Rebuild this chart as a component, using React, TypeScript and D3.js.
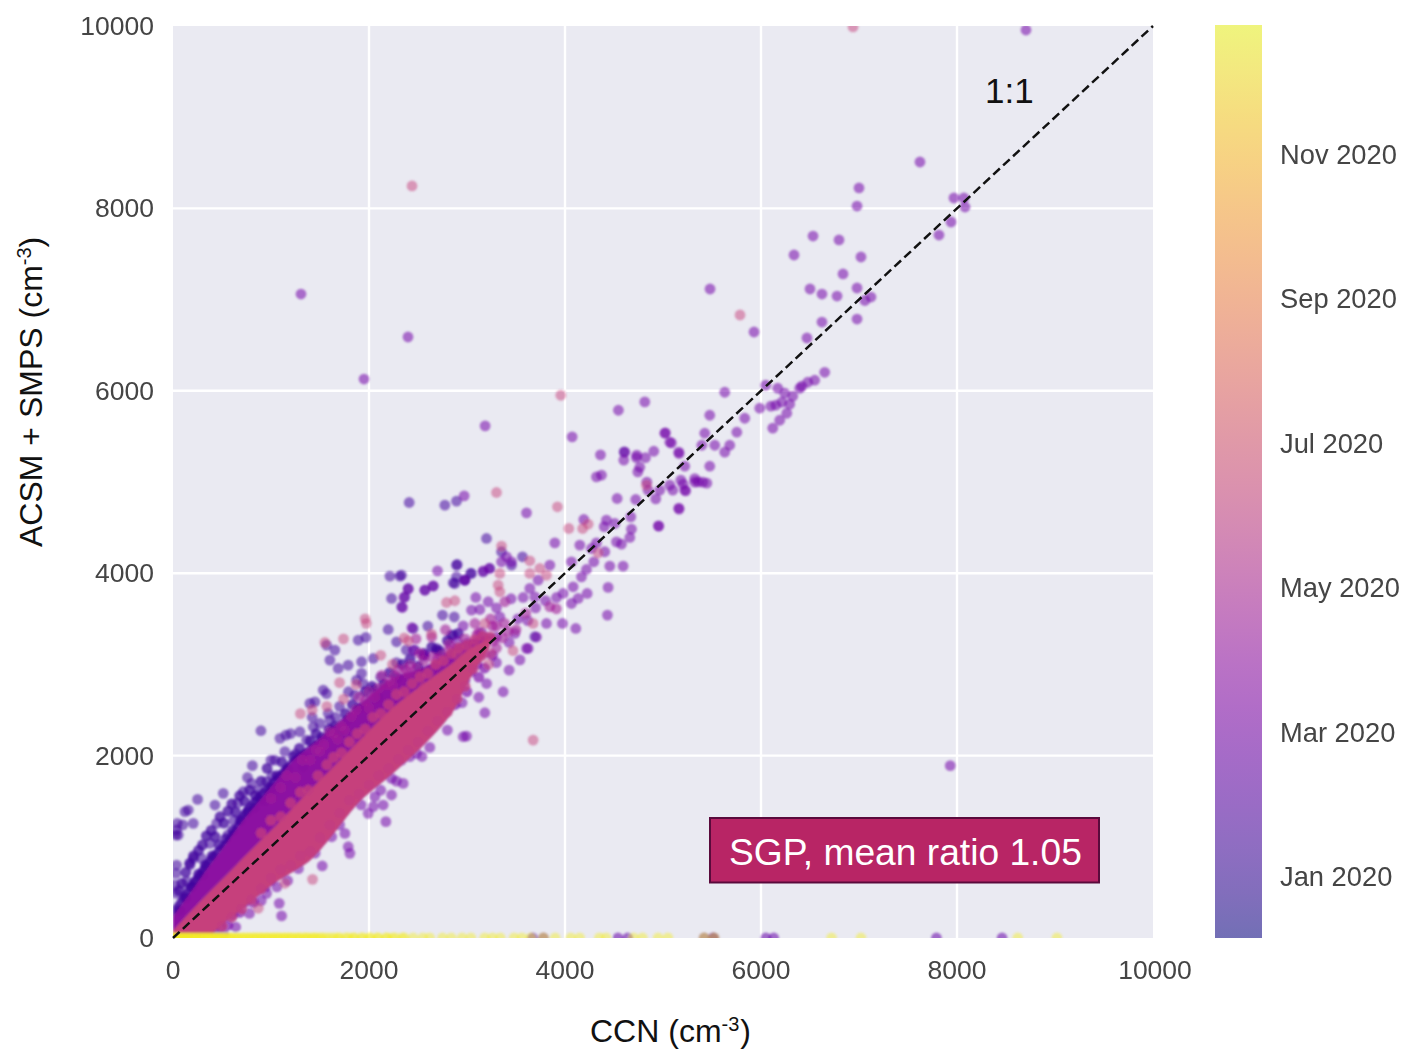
import React from "react";
import * as d3 from "d3";

type P = [number, number];

const xTickValues = [0, 2000, 4000, 6000, 8000, 10000];
const yTickValues = [0, 2000, 4000, 6000, 8000, 10000];
const monthTicks = [0, 2, 4, 6, 8, 10];
const monthLabels = ["Jan 2020", "Mar 2020", "May 2020", "Jul 2020", "Sep 2020", "Nov 2020"];

// dense, fully overplotted part of the cloud: envelopes
const bandX = [0, 207, 377, 547, 717, 887, 1057, 1227, 1397, 1567, 1907, 2247, 2587, 2859, 3000, 3233];
const coreLow = [0, 0, 40, 190, 330, 480, 620, 730, 850, 1050, 1500, 1810, 2150, 2490, 2790, 3200];
const coreHigh = [80, 320, 510, 690, 880, 1060, 1240, 1430, 1620, 1800, 2170, 2530, 2810, 3020, 3150, 3290];
const midHigh = [234, 540, 800, 1040, 1290, 1510, 1730, 1950, 2100, 2250, 2560, 2850, 2980, 3180, 3260, 3320];
const darkHigh = [344, 673, 920, 1111, 1420, 1620, 1810, 1990, 2120, 2260, 2570, 2850, 2985, 3185, 3260, 3320];

const febPoints: P[] = [
  [251, 1520], [156, 1403], [122, 1385], [37, 1184], [54, 1129], [30, 1129], [44, 1257], [207, 1257], [100, 1240],
  [428, 1458], [513, 1586], [377, 1038], [445, 1257], [37, 800], [30, 709], [20, 581], [37, 490], [207, 873],
  [292, 873], [173, 800], [139, 618], [224, 618], [309, 691], [897, 2273], [1040, 1951], [1000, 1950], [1142, 2043],
  [1091, 2189], [1152, 2225], [802, 1695], [955, 1714], [870, 1622], [717, 1604], [1295, 2262], [1499, 2353],
  [1584, 2463], [1601, 2390], [1431, 2316], [1363, 2170], [1397, 2572], [1448, 2590], [1533, 2718], [1567, 2680],
  [1856, 2664], [1873, 2828], [1924, 2901], [1940, 2790], [1601, 3047], [1686, 2956], [1788, 2992], [1924, 3029],
  [1567, 3211], [1652, 3157], [1890, 3266], [1968, 3296], [2213, 3968], [2315, 3968], [2230, 3723], [2332, 3631],
  [2400, 3832], [2366, 3741], [2570, 3814], [2655, 3858], [2196, 3383], [2281, 3248], [2451, 3394], [2468, 3157],
  [2859, 3321], [2689, 3175], [2043, 3065], [2553, 3091], [2893, 4088], [2876, 3887], [2978, 3924], [3046, 3997],
  [3165, 4015], [3233, 4052], [3454, 4088], [2410, 4775], [2774, 4746], [2893, 4790], [2332, 3979], [2900, 4096],
  [2893, 3961], [2859, 3895], [2978, 3924], [3036, 3997], [3566, 4180], [2842, 3321], [2689, 3157], [3692, 3303],
  [1200, 2240], [1250, 2020], [1330, 1880], [1480, 2120], [1660, 2420], [1700, 2540], [1780, 2390], [2050, 2720],
  [2120, 2860], [2280, 3020], [2380, 3160], [2600, 3420], [2750, 3540], [2870, 3520], [1790, 2700], [1420, 2420],
  [660, 1480], [760, 1760], [810, 1890], [620, 1290], [560, 1130], [940, 1500], [1010, 1780], [1150, 1800],
  [4603, 5330], [3352, 4235], [3199, 4381],
];

const febEdge: P[] = [
  [60, 520], [90, 600], [130, 720], [170, 820], [210, 900], [260, 960], [300, 1020], [340, 1120], [390, 1180],
  [430, 1110], [480, 1330], [520, 1260], [560, 1390], [600, 1470], [640, 1380], [680, 1560], [730, 1500],
  [780, 1620], [840, 1560], [900, 1720], [960, 1860], [1010, 1640], [1060, 1780], [1110, 1930], [1170, 1850],
  [1230, 1990], [1290, 2080], [1340, 1990], [1400, 2160], [1460, 2240], [1520, 2200], [1590, 2290], [1650, 2320],
  [1700, 2250], [1760, 2460], [1830, 2560], [1900, 2520], [1960, 2700], [2030, 2760], [2090, 2640], [2150, 2780],
  [2210, 2910], [2290, 2850], [2340, 3000], [2420, 3060], [2500, 2980], [2560, 3120], [2640, 3190], [2720, 3150],
  [2800, 3260], [2910, 3340], [70, 300], [130, 440], [190, 560], [260, 700], [330, 800], [400, 900], [470, 1020],
  [540, 1090], [610, 1180], [690, 1290], [760, 1380], [830, 1430], [900, 1510], [980, 1590], [1060, 1660],
];

const marPoints: P[] = [
  [8704, 9956], [7622, 8509], [7000, 8224], [6980, 8026], [7969, 8114], [8071, 8114], [8082, 8015], [7939, 7851],
  [7816, 7708], [1306, 7061], [6531, 7697], [6796, 7654], [6337, 7489], [7020, 7467], [6837, 7281], [6500, 7116],
  [6622, 7061], [6776, 7039], [6980, 7127], [5480, 7116], [5929, 6645], [2398, 6590], [7122, 7028], [7060, 6990],
  [6980, 6787], [6622, 6754], [6469, 6579], [1949, 6129], [7931, 1890],
  [5630, 5984], [5477, 5732], [5426, 5535], [5018, 5535], [5069, 5436], [5161, 5327], [4906, 5337], [4733, 5294],
  [4610, 5327], [4763, 5162], [4600, 5240], [4835, 4998], [4967, 4910], [5182, 5020], [5222, 4910], [5100, 4910],
  [5324, 4998], [5406, 4998], [5447, 4987], [5161, 4713], [4957, 4516], [5396, 5403], [5528, 5403], [5477, 5173],
  [5630, 5327], [5681, 5403], [5753, 5546], [5834, 5699], [5987, 5809], [6048, 6061], [6171, 6028], [6242, 5973],
  [6324, 5940], [6416, 6050], [6477, 6094], [6548, 6116], [6650, 6203], [6395, 6028], [6100, 5831], [6212, 5875],
  [6293, 5853], [6151, 5842], [6120, 5590], [6191, 5677], [6263, 5754],
  [4814, 5878], [4545, 5787], [3185, 5615], [5025, 5539], [5086, 5429], [4073, 5495], [5164, 5312], [4362, 5298],
  [4729, 5268], [4821, 5268], [4743, 5111], [5222, 5173], [4321, 5056], [4372, 5075], [5324, 5038], [5358, 5002],
  [5069, 4965], [5205, 4976], [5232, 4903], [4848, 4910], [4926, 4815], [4532, 4819], [4722, 4808], [5164, 4702],
  [4953, 4519], [2971, 4848], [3607, 4662], [4192, 4589], [4423, 4582], [4508, 4545], [4400, 4510], [4671, 4618],
  [4678, 4483], [4661, 4392], [4525, 4344], [4576, 4319], [4321, 4333], [4270, 4271], [4151, 4308], [4406, 4235],
  [4294, 4125], [4457, 4077], [4593, 4077], [3896, 4333], [4066, 4125], [4219, 4041], [4168, 3960], [4440, 3844],
  [4226, 3778], [4433, 3541], [4110, 3394], [3974, 3449], [4134, 3723], [4066, 3668], [3981, 3778], [3913, 3734],
  [4083, 3851], [3403, 4180], [3454, 4125], [3352, 4125], [3845, 4088], [3726, 3924], [2699, 4026], [2978, 3924],
  [3165, 4026], [3226, 4052], [2655, 3862], [2570, 3814], [2400, 3825], [2356, 3734], [2342, 3624], [3090, 3734],
  [3641, 3833], [3692, 3741], [3573, 3734], [3450, 3720], [3216, 3687], [3131, 3602], [3046, 3595], [3811, 3449],
  [3624, 3175], [3488, 3340], [3335, 3522], [2961, 3423], [2437, 3402], [2451, 3157], [2570, 3102], [3300, 3620],
  [1108, 242], [1084, 380], [955, 490], [1060, 560], [1523, 790], [1788, 1001], [1805, 928], [1754, 1147],
  [1992, 1367], [2043, 1440], [2172, 1276], [2145, 1458], [2230, 1568], [2230, 1750], [2349, 1695], [2280, 1720],
  [2332, 1951], [2417, 1988], [2485, 2024], [2961, 2207], [2995, 2214], [3182, 2470], [3369, 2700], [3430, 2937],
  [3607, 3175], [3710, 3300], [3540, 3050], [3300, 3020], [3200, 2790], [3120, 2640], [2950, 2580], [2800, 2280],
  [2620, 2090], [2540, 1990], [1920, 1460], [1700, 1240], [1620, 1110], [1450, 930], [1280, 760], [900, 410],
  [780, 270], [640, 120], [520, 40], [1170, 630], [2120, 1620], [2060, 1550], [3430, 3240], [3520, 3500],
  [3620, 3480], [3700, 3620], [3800, 3700], [3300, 3300], [3150, 3350], [3000, 3230], [2900, 3250],
];

const marEdge: P[] = [
  [420, 60], [480, 130], [560, 140], [610, 250], [680, 280], [730, 390], [820, 390], [860, 520], [940, 560],
  [1000, 630], [1060, 740], [1130, 820], [1210, 860], [1290, 950], [1360, 1010], [1420, 1100], [1490, 1150],
  [1560, 1290], [1630, 1340], [1690, 1430], [1760, 1520], [1830, 1560], [1880, 1700], [1950, 1760], [2020, 1840],
  [2100, 1910], [2180, 1990], [2260, 2070], [2340, 2120], [2420, 2210], [2500, 2280], [2580, 2390], [2660, 2440],
  [2740, 2550], [2820, 2640], [2900, 2710], [2980, 2830], [3040, 2920], [3100, 3000], [3180, 2960], [3260, 3100],
  [3120, 2860], [3000, 2700], [2880, 2560],
];

const aprPoints: P[] = [
  [3384, 3450], [3080, 3449], [2780, 3380], [2640, 3300], [2480, 3280], [3240, 3500], [3120, 3350], [3300, 3180],
  [3420, 3360], [3500, 3380], [3600, 3560], [3845, 3632], [3912, 3610], [3386, 3687], [3260, 3420], [2980, 3280],
  [2820, 3220], [2700, 3060], [2420, 2990], [2260, 2880], [2180, 2780], [2060, 2640], [1960, 2600], [1870, 2500],
  [1720, 2320], [1640, 2240], [1540, 2120], [1460, 2060], [1320, 1950], [1160, 1780], [3180, 3120], [3270, 3260],
  [2370, 2950], [2520, 3120], [2240, 2770], [2130, 2880], [2000, 2520], [1820, 2430],
  [1900, 2640], [2000, 2700], [2100, 2740], [2220, 2820], [2300, 2940], [2400, 2900], [2480, 2960], [2560, 3040],
  [2650, 3080], [2740, 3100], [2820, 3160], [2900, 3180], [2960, 3180], [3040, 3200], [3100, 3320], [3220, 3300],
  [3300, 3420], [3360, 3290], [1600, 2260], [1680, 2180], [1750, 2280], [1500, 2050], [1400, 1950], [1250, 1760],
  [1100, 1650], [1000, 1530],
];

const julEdge: P[] = [
  [900, 1150], [1000, 1290], [1100, 1330], [1200, 1480], [1300, 1600], [1380, 1620], [1480, 1780], [1570, 1900],
  [1640, 1980], [1720, 2030], [1800, 2150], [1880, 2240], [1960, 2290], [2040, 2420], [2120, 2460], [2200, 2560],
  [2280, 2670], [2360, 2700], [2440, 2790], [2520, 2860], [2600, 2900], [2680, 3000], [2760, 3040], [2840, 3120],
  [2920, 3180], [3000, 3210], [3080, 3270], [3160, 3310], [3240, 3300], [500, 130], [600, 230], [700, 320],
  [800, 420], [900, 540], [1000, 660], [1100, 750], [1200, 800], [1300, 900], [1400, 950], [1500, 1100], [1600, 1240],
  [1700, 1370], [1800, 1510], [1900, 1580], [2000, 1680], [2100, 1780], [2200, 1860], [2300, 1960], [2400, 2060],
  [2500, 2150], [2600, 2270], [2700, 2380], [2800, 2480], [2900, 2620], [2980, 2760], [3060, 2950], [3140, 3090],
];

const julPoints: P[] = [
  [6939, 9990], [2439, 8246], [5786, 6831], [3957, 5951], [3301, 4885], [3923, 4728], [4039, 4490], [4236, 4538],
  [4180, 4490], [4831, 4965], [4338, 4223], [3352, 4297], [3641, 4136], [3743, 4052], [3641, 3997], [3811, 3979],
  [3335, 3997], [3318, 3869], [3335, 3796], [2791, 3679], [2876, 3698], [3675, 3449], [2638, 3332], [2400, 3259],
  [3182, 3449], [3470, 3150], [3675, 2170], [1424, 643], [870, 326], [1142, 600], [1972, 3450], [1960, 3500],
  [1550, 3240], [1740, 3280], [2120, 3100], [2240, 3000], [2560, 2750], [1700, 2800], [1420, 2500], [1300, 2460],
  [1570, 2540], [1740, 2620], [1870, 2780], [2360, 3290], [2900, 3100], [2960, 2980], [3100, 3050], [3220, 3000],
  [3240, 3120],
];

const decSolidX = [
  0, 25, 50, 75, 100, 125, 150, 175, 200, 225, 250, 275, 300, 325, 350, 375, 400, 425, 450, 475, 500, 540, 580, 620,
  660, 700, 740, 780, 820, 860, 900, 940, 980, 1020, 1060, 1100, 1140, 1180, 1220, 1260, 1300, 1340, 1380, 1420, 1460,
  1500, 1560, 1640, 1700, 1790, 1850, 1940, 2020, 2090, 2180, 2240, 2340,
];
const decX = [
  0, 40, 80, 120, 160, 200, 240, 280, 320, 360, 400, 440, 480, 520, 560, 600, 660, 720, 780, 840, 900, 960, 1020,
  1080, 1140, 1200, 1280, 1360, 1440, 1520, 1600, 1680, 1760, 1840, 1920, 2000, 2090, 2180, 2270, 2360, 2450, 2550,
  2620, 2750, 2840, 2950, 3040, 3180, 3260, 3340, 3480, 3560, 3650, 3780, 3900, 4060, 4150, 4350, 4420, 4700, 4790,
  4950, 5050, 5420, 5520, 6720, 7020, 8620, 9020,
];
const zeroPurpleX = [3670, 3780, 4540, 4640, 5420, 5520, 5510, 6050, 6130, 7790, 8460];

const W = 1404;
const H = 1049;
const x = d3.scaleLinear().domain([0, 10000]).range([173, 1153]);
const y = d3.scaleLinear().domain([0, 10000]).range([938, 26]);
const cbY = d3.scaleLinear().domain([0, 10]).range([877, 155]);
const monthToT = d3.scaleLinear().domain([-0.85, 11.8]).range([0, 1]);
const col = (m: number) => d3.interpolatePlasma(monthToT(m));
const R = 5.4;
const FONT = "'Liberation Sans', Arial, sans-serif";

const bandRows = bandX.map((v, i) => ({ v, low: coreLow[i], core: coreHigh[i], mid: midHigh[i], dark: darkHigh[i] }));
const area = (key: "core" | "mid" | "dark") =>
  d3
    .area<(typeof bandRows)[number]>()
    .x((d) => x(d.v))
    .y0((d) => y(d.low))
    .y1((d) => y(d[key]))
    .curve(d3.curveCatmullRom)(bandRows) as string;

const Dots = ({ pts, m, op = 0.54 }: { pts: P[]; m: number; op?: number }) => (
  <g fill={col(m)} fillOpacity={op}>
    {pts.map(([a, b], i) => (
      <circle key={i} cx={x(a)} cy={y(b)} r={R} />
    ))}
  </g>
);

export default function App() {
  const stops = d3.range(0, 1.0001, 0.05);
  const g = x.range();
  const [top, bottom] = [y(10000), y(0)];
  return (
    <svg width={W} height={H} style={{ position: "absolute", left: 0, top: 0 }} fontFamily={FONT}>
      <defs>
        <clipPath id="plot">
          <rect x={g[0]} y={top} width={g[1] - g[0]} height={bottom - top} />
        </clipPath>
        <linearGradient id="cb" x1="0" y1="1" x2="0" y2="0">
          {stops.map((t) => (
            <stop key={t} offset={t} stopColor={d3.interpolatePlasma(t)} stopOpacity={0.55} />
          ))}
        </linearGradient>
        <filter id="soft" x="-2%" y="-2%" width="104%" height="104%">
          <feGaussianBlur stdDeviation="0.9" />
        </filter>
        <filter id="softT" x="-5%" y="-5%" width="110%" height="110%">
          <feGaussianBlur stdDeviation="0.4" />
        </filter>
      </defs>

      <rect x={g[0]} y={top} width={g[1] - g[0]} height={bottom - top} fill="#eaeaf2" />
      <g stroke="#fff" strokeWidth={2.4}>
        {xTickValues.slice(1, -1).map((t) => (
          <line key={t} x1={x(t)} x2={x(t)} y1={top} y2={bottom} />
        ))}
        {yTickValues.slice(1, -1).map((t) => (
          <line key={t} x1={g[0]} x2={g[1]} y1={y(t)} y2={y(t)} />
        ))}
      </g>

      <g clipPath="url(#plot)">
        <g filter="url(#soft)">
          <Dots pts={febPoints} m={0.4} />
          <Dots pts={febEdge} m={0.3} op={0.72} />
          <path d={area("dark")} fill={col(0.3)} fillOpacity={0.85} />
          <path d={area("mid")} fill={col(3.2)} fillOpacity={0.85} />
          <Dots pts={marPoints} m={1.9} />
          <Dots pts={marEdge} m={2.2} op={0.65} />
          <Dots pts={aprPoints} m={3.6} op={0.6} />
          <path d={area("core")} fill={col(5.3)} fillOpacity={0.97} />
          <Dots pts={julEdge} m={5} op={0.8} />
          <Dots pts={julPoints} m={5.2} op={0.5} />
          <g fill={col(1.5)} fillOpacity={0.55}>
            {zeroPurpleX.map((v, i) => (
              <circle key={i} cx={x(v)} cy={y(0)} r={R} />
            ))}
          </g>
          <g fill={col(11.5)} fillOpacity={0.45}>
            {decSolidX.map((v, i) => (
              <circle key={i} cx={x(v)} cy={y(0)} r={R} />
            ))}
            {decX.map((v, i) => (
              <circle key={i} cx={x(v)} cy={y(0)} r={R} />
            ))}
          </g>
        </g>
      </g>
      <line
        x1={x(0)}
        y1={y(0)}
        x2={x(10000)}
        y2={y(10000)}
        stroke="#111"
        strokeWidth={2.5}
        strokeDasharray="9 4.5"
      />

      <g fontSize={26.5} fill="#444" filter="url(#softT)">
        {xTickValues.map((t) => (
          <text key={t} x={x(t) + (t === 10000 ? 2 : 0)} y={979} textAnchor="middle">
            {t}
          </text>
        ))}
        {yTickValues.map((t) => (
          <text key={t} x={154} y={y(t) + 9} textAnchor="end">
            {t}
          </text>
        ))}
      </g>

      <rect x={1215} y={25} width={47} height={913} fill="#eeeeee" />
      <rect x={1215} y={25} width={47} height={913} fill="url(#cb)" />
      <g fontSize={27.3} fill="#444" filter="url(#softT)">
        {monthTicks.map((m, i) => (
          <text key={m} x={1280} y={cbY(m) + 9}>
            {monthLabels[i]}
          </text>
        ))}
      </g>

      <text x={985} y={103} fontSize={35} fill="#111">
        1:1
      </text>

      <text x={590} y={1042} fontSize={32} fill="#111">
        CCN (cm
        <tspan fontSize={20} dy={-11}>
          -3
        </tspan>
        <tspan dy={11} dx={1}>)</tspan>
      </text>
      <text transform="translate(42,547) rotate(-90)" fontSize={32} fill="#111">
        ACSM + SMPS (cm
        <tspan fontSize={20} dy={-11}>
          -3
        </tspan>
        <tspan dy={11}>)</tspan>
      </text>

      <rect x={710} y={818} width={389} height={64.5} fill="#b82565" stroke="#5a0a3c" strokeWidth={2} />
      <text x={729} y={865} fontSize={37.2} fill="#fff">
        SGP, mean ratio 1.05
      </text>
    </svg>
  );
}
